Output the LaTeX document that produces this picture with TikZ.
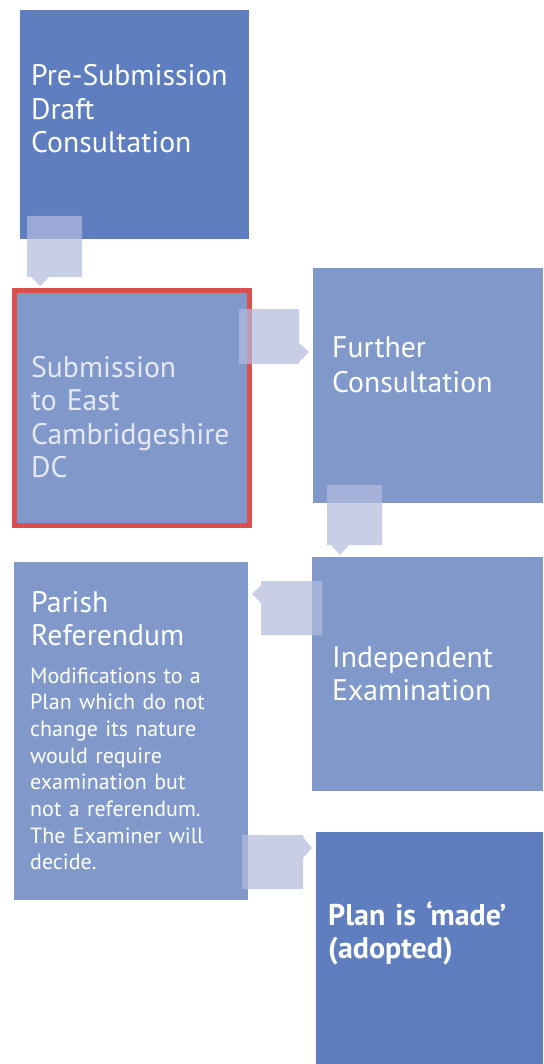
\documentclass[tikz,border=0pt]{standalone}
\usepackage{fontspec}
\setmainfont{PT Sans}
\begin{document}
\begin{tikzpicture}[x=1pt,y=-1pt,
  darkbox/.style={fill=boxdark,draw=none},
  lightbox/.style={fill=boxlight,draw=none},
  callout/.style={fill=calloutc,fill opacity=0.71,draw=none},
  bigtxt/.style={anchor=base west,inner sep=0pt,align=left,text width=215pt,text=white,font=\fontsize{29.7}{33.5}\selectfont},
  smalltxt/.style={anchor=base west,inner sep=0pt,align=left,text width=220pt,text=white,font=\fontsize{22}{26.7}\selectfont}
]
\definecolor{boxdark}{HTML}{5E7EC0}
\definecolor{boxlight}{HTML}{8199CA}
\definecolor{calloutc}{HTML}{B3BBDE}
\definecolor{redb}{HTML}{D9504F}
\definecolor{paletxt}{HTML}{E6E9F5}
\useasboundingbox (0,0) rectangle (543,1064);
\fill[white] (0,0) rectangle (543,1064);
% boxes
\path[darkbox] (20,10) rectangle (249,239);
\coordinate (b1) at (20,10);
\path[lightbox] (13,289) rectangle (251,527);
\draw[redb,line width=5pt] (14.5,290.5) rectangle (249.5,525.5);
\coordinate (b2) at (13,289);
\path[lightbox] (313,268) rectangle (543,503);
\coordinate (b3) at (313,268);
\path[lightbox] (312,557) rectangle (543,791);
\coordinate (b4) at (312,557);
\path[lightbox] (14,562) rectangle (248,900);
\coordinate (b5) at (14,562);
\path[darkbox] (316,832) rectangle (543,1064);
\coordinate (b6) at (316,832);
% texts
\node[bigtxt] (t1) at (31,86) {Pre-Submission\\Draft\\Consultation};
\node[bigtxt,text=paletxt] (t2) at (31,377) {Submission\\to East\\Cambridgeshire\\DC};
\node[bigtxt,font=\fontsize{29.7}{35}\selectfont] (t3) at (332,357) {Further\\Consultation};
\node[bigtxt] (t4) at (332,667) {Independent\\Examination};
\node[bigtxt] (t5) at (31,612) {Parish\\Referendum};
\node[smalltxt] (t5b) at (30,683) {Modifications to a\\Plan which do not\\change its nature\\would require\\examination but\\not a referendum.\\The Examiner will\\decide.};
\node[bigtxt,font=\bfseries\fontsize{30}{33.5}\selectfont] (t6) at (328,925) {Plan is ‘made’\\(adopted)};
% callouts
\path[callout] (27,216) -- (82,216) -- (82,277) -- (49,277) -- (40,286) -- (31,277) -- (27,277) -- cycle;
\path[callout] (239,309) -- (299,309) -- (299,343) -- (309,352) -- (299,362) -- (299,364) -- (239,364) -- cycle;
\path[callout] (327,485) -- (382,485) -- (382,545) -- (349,545) -- (340,555) -- (331,545) -- (327,545) -- cycle;
\path[callout] (261,581) -- (322,581) -- (322,635) -- (261,635) -- (261,603) -- (252,594) -- (261,585) -- cycle;
\path[callout] (242,835) -- (303,835) -- (303,837) -- (312,848) -- (303,858) -- (303,889) -- (242,889) -- cycle;
\end{tikzpicture}
\end{document}
